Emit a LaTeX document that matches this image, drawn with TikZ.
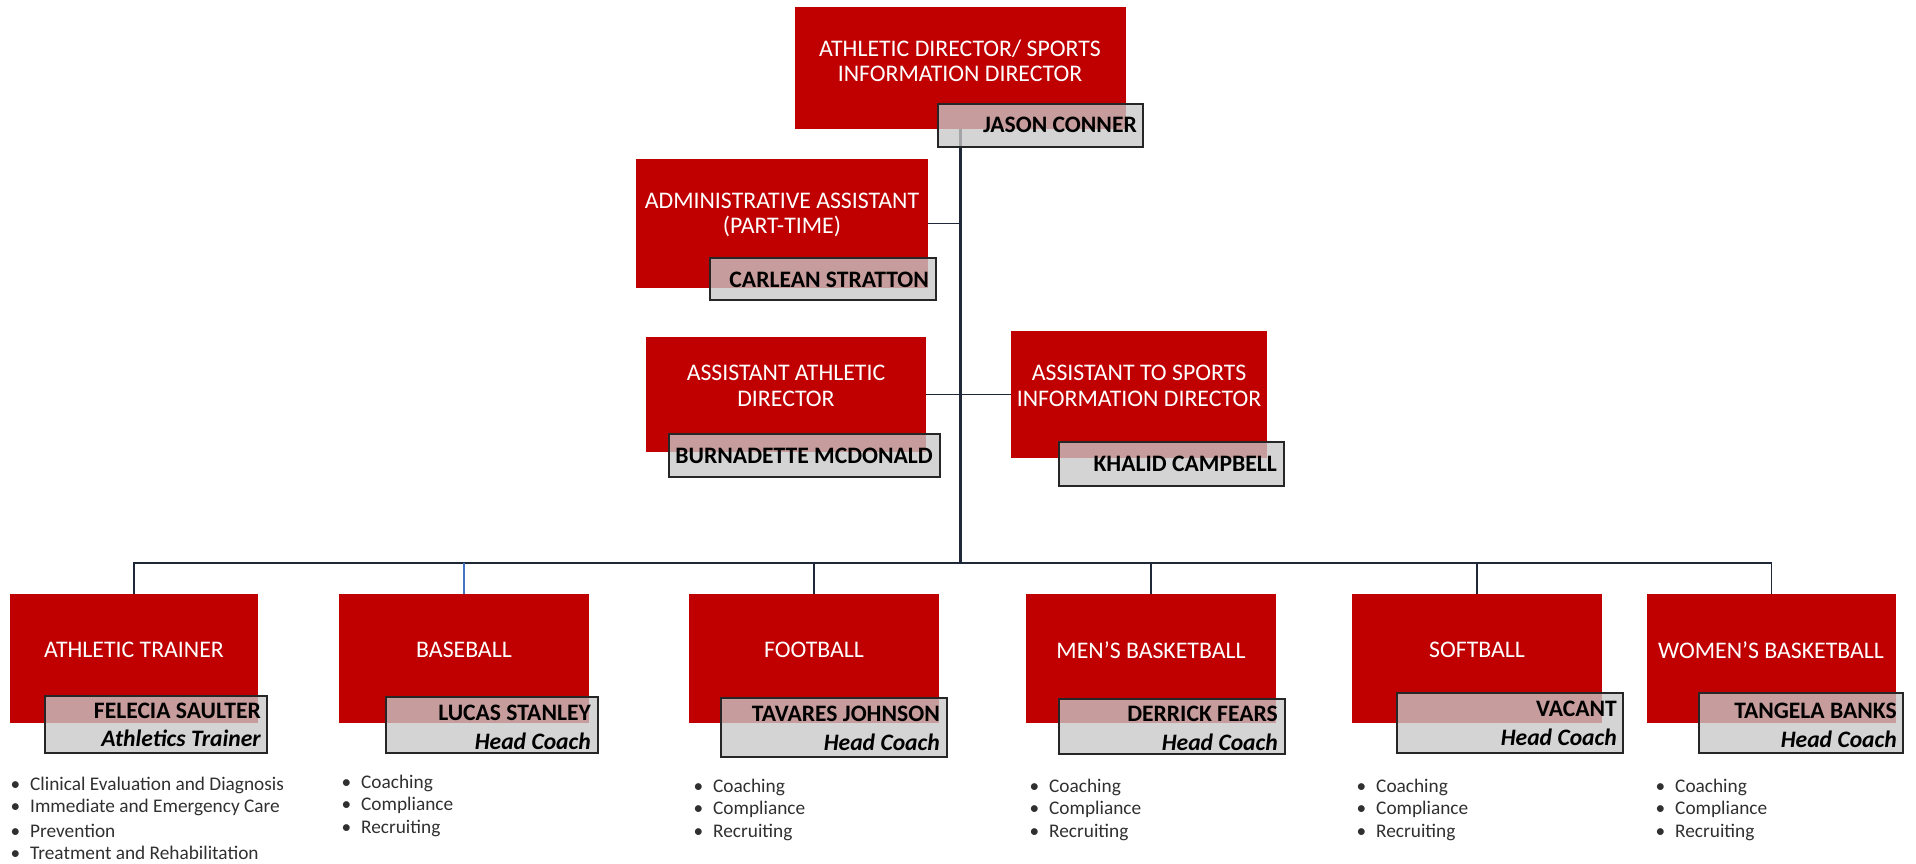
\documentclass[tikz,border=0pt]{standalone}
\usepackage{fontspec}
\setmainfont{Carlito}
\usetikzlibrary{fit}
\definecolor{boxred}{HTML}{C00000}
\definecolor{linec}{HTML}{1F2838}
\definecolor{blueline}{HTML}{4472C4}
\definecolor{bultext}{HTML}{303030}
\begin{document}
\begin{tikzpicture}[x=1pt,y=-1pt,
  redbox/.style={fill=boxred, draw=none, inner sep=0pt},
  namebox/.style={draw=black!85, line width=1.4pt, fill={rgb,255:red,200;green,200;blue,200}, fill opacity=0.78, inner sep=0pt},
  titletext/.style={text=white, font=\fontsize{23.8}{25.5}\selectfont, align=center, inner sep=0pt},
  nametext/.style={text=black, font=\fontsize{23.6}{26}\selectfont\bfseries, anchor=east, inner sep=0pt},
  roletext/.style={text=black, font=\fontsize{23.6}{26}\selectfont\bfseries\itshape, anchor=east, inner sep=0pt},
  btext/.style={text=bultext, font=\fontsize{19.3}{22}\selectfont, anchor=west, inner sep=0pt},
  conn/.style={draw=linec, line width=1.5pt},
  spine/.style={draw=linec, line width=2.2pt}
]
\useasboundingbox (0,0) rectangle (1916,864);

% ---------- boxes (red) ----------
\node[redbox, fit={(795,7) (1126,129)}] (top) {};
\node[redbox, fit={(636,159) (928,288)}] (adm) {};
\node[redbox, fit={(646,337) (926,452)}] (aad) {};
\node[redbox, fit={(1011,331) (1267,458)}] (asid) {};
\node[redbox, fit={(10,594) (258,723)}] (at) {};
\node[redbox, fit={(339,594) (589,723)}] (bb) {};
\node[redbox, fit={(689,594) (939,723)}] (fb) {};
\node[redbox, fit={(1026,594) (1276,723)}] (mbb) {};
\node[redbox, fit={(1352,594) (1602,723)}] (sb) {};
\node[redbox, fit={(1647,594) (1896,723)}] (wbb) {};

% ---------- connectors ----------
\coordinate (bus) at (961,563);
\draw[spine] (top.south) -- (top.south |- bus);
\draw[conn] (adm.east) -- (adm.east -| top.south);
\draw[conn] (aad.east) -- (asid.west);
\draw[conn] (at.north) -- (at.north |- bus) -- (wbb.north |- bus) -- (wbb.north);
\draw[draw=blueline, line width=1.2pt] (bb.north |- bus) -- (bb.north);
\draw[conn] (fb.north |- bus) -- (fb.north);
\draw[conn] (mbb.north |- bus) -- (mbb.north);
\draw[conn] (sb.north |- bus) -- (sb.north);

% ---------- titles ----------
\node[titletext] (topt) at (960,61) {ATHLETIC DIRECTOR/ SPORTS\\INFORMATION DIRECTOR};
\node[titletext] (admt) at (782,215) {ADMINISTRATIVE ASSISTANT\\(PART-TIME)};
\node[titletext] (aadt) at (786,386) {ASSISTANT ATHLETIC\\DIRECTOR};
\node[titletext] (asidt) at (1139,386) {ASSISTANT TO SPORTS\\INFORMATION DIRECTOR};
\node[titletext] (att) at (134,650) {ATHLETIC TRAINER};
\node[titletext] (bbt) at (464,650) {BASEBALL};
\node[titletext] (fbt) at (814,650) {FOOTBALL};
\node[titletext] (mbbt) at (1151,650) {MEN’S BASKETBALL};
\node[titletext] (sbt) at (1477,650) {SOFTBALL};
\node[titletext] (wbbt) at (1771,650) {WOMEN’S BASKETBALL};

% ---------- name boxes ----------
\node[namebox, fit={(938,104) (1143,147)}] (topn) {};
\node[namebox, fit={(710,258) (936,300)}] (admn) {};
\node[namebox, fit={(669,434) (940,477)}] (aadn) {};
\node[namebox, fit={(1059,442) (1284,486)}] (asidn) {};
\node[namebox, fit={(45,696) (267,753)}] (atn) {};
\node[namebox, fit={(386,697) (598,753)}] (bbn) {};
\node[namebox, fit={(721,698) (947,757)}] (fbn) {};
\node[namebox, fit={(1059,699) (1285,754)}] (mbbn) {};
\node[namebox, fit={(1397,693) (1623,753)}] (sbn) {};
\node[namebox, fit={(1699,693) (1903,753)}] (wbbn) {};

% ---------- names ----------
\node[nametext] (topnt) at (1137,125) {JASON CONNER};
\node[nametext] (admnt) at (929,280) {CARLEAN STRATTON};
\node[nametext] (aadnt) at (933,456) {BURNADETTE MCDONALD};
\node[nametext] (asidnt) at (1277,464) {KHALID CAMPBELL};
\node[nametext] (atnt) at (261,711) {FELECIA SAULTER};
\node[roletext] (atr) at (261,738) {Athletics Trainer};
\node[nametext] (bbnt) at (591,713) {LUCAS STANLEY};
\node[roletext] (bbr) at (591,741) {Head Coach};
\node[nametext] (fbnt) at (940,714) {TAVARES JOHNSON};
\node[roletext] (fbr) at (940,742) {Head Coach};
\node[nametext] (mbbnt) at (1278,714) {DERRICK FEARS};
\node[roletext] (mbbr) at (1278,742) {Head Coach};
\node[nametext] (sbnt) at (1617,709) {VACANT};
\node[roletext] (sbr) at (1617,737) {Head Coach};
\node[nametext] (wbbnt) at (1897,711) {TANGELA BANKS};
\node[roletext] (wbbr) at (1897,739) {Head Coach};

% ---------- bullet lists ----------
\newcommand\bul{\makebox[0pt][r]{\textbullet\hspace{10pt}}}
\foreach \t [count=\i] in {Clinical Evaluation and Diagnosis, Immediate and Emergency Care, Prevention, Treatment and Rehabilitation}
  \node[btext] (atl\i) at (30,{785+22.7*(\i-1)}) {\bul\t};
\foreach \t [count=\i] in {Coaching, Compliance, Recruiting}
  \node[btext] (bbl\i) at (361,{783+22.7*(\i-1)}) {\bul\t};
\foreach \t [count=\i] in {Coaching, Compliance, Recruiting}
  \node[btext] (fbl\i) at (713,{787+22.7*(\i-1)}) {\bul\t};
\foreach \t [count=\i] in {Coaching, Compliance, Recruiting}
  \node[btext] (mbbl\i) at (1049,{787+22.7*(\i-1)}) {\bul\t};
\foreach \t [count=\i] in {Coaching, Compliance, Recruiting}
  \node[btext] (sbl\i) at (1376,{787+22.7*(\i-1)}) {\bul\t};
\foreach \t [count=\i] in {Coaching, Compliance, Recruiting}
  \node[btext] (wbbl\i) at (1675,{787+22.7*(\i-1)}) {\bul\t};
\end{tikzpicture}
\end{document}
